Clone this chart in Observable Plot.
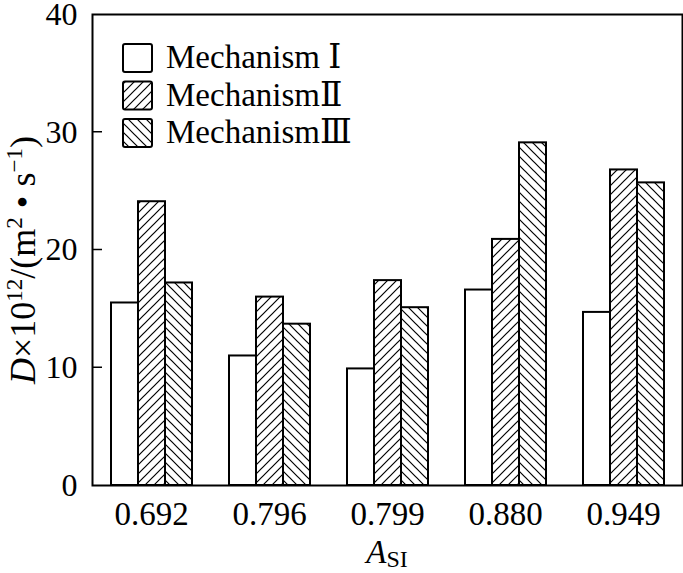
<!DOCTYPE html>
<html><head><meta charset="utf-8">
<script src="https://cdn.jsdelivr.net/npm/d3@7"></script>
<script src="https://cdn.jsdelivr.net/npm/@observablehq/plot@0.6"></script>
<style>
body{margin:0;background:#fff}
#chart{position:relative;width:683px;height:573px}
</style>
</head><body><div id="chart"></div>
<script>
const categories = ["0.692", "0.796", "0.799", "0.880", "0.949"];
const mechanisms = ["Mechanism Ⅰ", "MechanismⅡ", "MechanismⅢ"];
const mech1 = [15.5, 11.0, 9.9, 16.6, 14.7];
const mech2 = [24.1, 16.0, 17.4, 20.9, 26.8];
const mech3 = [17.2, 13.7, 15.1, 29.1, 25.7];
const yTicks = [0, 10, 20, 30, 40];

const series = [mech1, mech2, mech3];
const fills = ["white", "url(#hatchFwd)", "url(#hatchBack)"];
const data = categories.flatMap((c, i) => mechanisms.map((m, j) => ({cat: c, mech: m, value: series[j][i], k: j})));

const FONT = "'Liberation Serif', 'DejaVu Serif', serif";

const plot = Plot.plot({
  width: 683, height: 573,
  marginLeft: 92, marginRight: 1, marginTop: 14, marginBottom: 88,
  style: {fontFamily: FONT, fontSize: "33px", background: "white", color: "black", overflow: "visible"},
  fx: {domain: categories, padding: 0, label: null},
  x: {domain: mechanisms, paddingInner: 0, paddingOuter: 0.63, axis: null},
  y: {domain: [0, 40], label: null},
  marks: [
    ...mechanisms.map((m, j) => Plot.barY(data.filter(d => d.k === j), {
      fx: "cat", x: "mech", y: "value", fill: fills[j], stroke: "black", strokeWidth: 2, inset: 0
    })),
    Plot.frame({facet: "super", stroke: "black", strokeWidth: 2}),
    Plot.axisFx({anchor: "bottom", tickSize: 0, tickPadding: 16, fontSize: 33, label: null}),
    Plot.axisY({ticks: yTicks, tickSize: 0, tickPadding: 15, fontSize: 32, label: null})
  ]
});

const svg = d3.select(plot);
const defs = svg.insert("defs", ":first-child");
const pf = defs.append("pattern").attr("id", "hatchFwd").attr("patternUnits", "userSpaceOnUse")
  .attr("width", 9).attr("height", 9);
pf.append("rect").attr("width", 9).attr("height", 9).attr("fill", "white");
pf.append("path").attr("d", "M-1,1L1,-1M0,9L9,0M8,10L10,8").attr("stroke", "black").attr("stroke-width", 1.2);
const pb = defs.append("pattern").attr("id", "hatchBack").attr("patternUnits", "userSpaceOnUse")
  .attr("width", 9).attr("height", 9);
pb.append("rect").attr("width", 9).attr("height", 9).attr("fill", "white");
pb.append("path").attr("d", "M-1,8L1,10M0,0L9,9M8,-1L10,1").attr("stroke", "black").attr("stroke-width", 1.2);

document.getElementById("chart").appendChild(plot);

// y-axis tick marks drawn inward
const yScale = plot.scale("y");
const fxScale = plot.scale("fx");
const left = fxScale.apply(categories[0]);
const tickG = svg.append("g").attr("stroke", "black").attr("stroke-width", 1.5);
yTicks.slice(1, -1).forEach(v => {
  tickG.append("line").attr("x1", left).attr("x2", left + 10).attr("y1", yScale.apply(v)).attr("y2", yScale.apply(v));
});

// y-axis label
const yl = svg.append("text").attr("font-family", FONT).attr("font-size", 36).attr("fill", "black")
  .attr("text-anchor", "middle").attr("transform", "translate(35,260) rotate(-90)");
yl.append("tspan").attr("font-style", "italic").text("D");
yl.append("tspan").text("×10");
yl.append("tspan").attr("font-size", 23).attr("dy", -13).text("12");
yl.append("tspan").attr("dy", 13).text("/(m");
yl.append("tspan").attr("font-size", 23).attr("dy", -13).text("2");
yl.append("tspan").attr("dy", 13).text(" • s");
yl.append("tspan").attr("font-size", 23).attr("dy", -13).text("−1");
yl.append("tspan").attr("dy", 13).text(")");

// x-axis label
const xl = svg.append("text").attr("font-family", FONT).attr("font-size", 33).attr("fill", "black")
  .attr("text-anchor", "middle").attr("x", 387).attr("y", 563);
xl.append("tspan").attr("font-style", "italic").text("A");
xl.append("tspan").attr("font-size", 24).attr("dy", 4).text("SI");

// legend
const lg = svg.append("g").attr("font-family", FONT).attr("font-size", 33).attr("fill", "black")
  .attr("text-anchor", "start");
mechanisms.forEach((m, j) => {
  const y0 = 44 + j * 37.5;
  lg.append("rect").attr("x", 123).attr("y", y0).attr("width", 29).attr("height", 28).attr("rx", 2)
    .attr("fill", fills[j]).attr("stroke", "black").attr("stroke-width", 2);
  lg.append("text").attr("x", 166).attr("y", y0 + 24).text(m);
});
</script>
</body></html>
